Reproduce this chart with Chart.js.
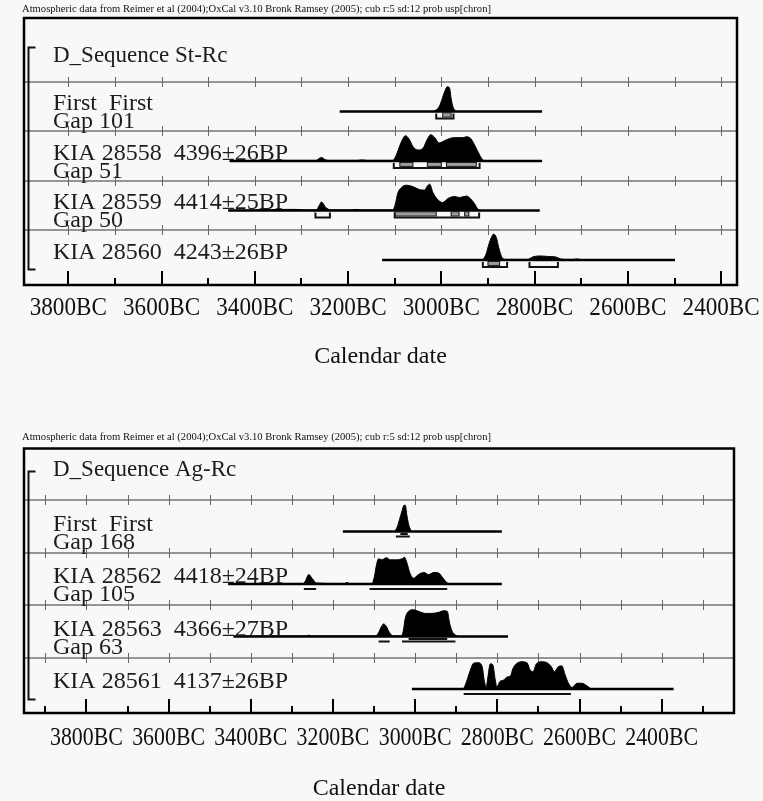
<!DOCTYPE html>
<html>
<head>
<meta charset="utf-8">
<script src="https://cdn.jsdelivr.net/npm/chart.js@4.4.1/dist/chart.umd.min.js"></script>
<style>
html, body { margin: 0; padding: 0; background: #f8f8f8; }
canvas { position: absolute; left: 0; display: block; }
</style>
</head>
<body>
<canvas id="st" width="763" height="400" style="top:0"></canvas>
<canvas id="ag" width="763" height="401" style="top:400px"></canvas>
<script>
// Two OxCal-style multiplots. Years are negative (BC). Each distribution is [year, height],
// height in row units (1 = distance between separators).
const HEADER = 'Atmospheric data from Reimer et al (2004);OxCal v3.10 Bronk Ramsey (2005); cub r:5 sd:12 prob usp[chron]';
const majorTicks = [-3800, -3600, -3400, -3200, -3000, -2800, -2600, -2400];

// --- D_Sequence St-Rc ---
const stLabels = ['First  First', 'KIA 28558  4396±26BP', 'KIA 28559  4414±25BP', 'KIA 28560  4243±26BP'];
const stGaps = ['Gap 101', 'Gap 51', 'Gap 50', ''];

const stFirstSpan = [-3218, -2784];
const stFirstDist = [[-3018, 0], [-3011, 0.03], [-3004, 0.11], [-2998, 0.26], [-2993, 0.4], [-2987, 0.5],
    [-2982, 0.46], [-2979, 0.26], [-2975, 0.09], [-2969, 0.01], [-2967, 0]];
const stFirstR1 = [[-2997, -2979]];
const stFirstR2 = [[-3011, -2974]];

const st558Span = [-3454, -2784];
const st558Dist = [[-3454, 0], [-3400, 0.01], [-3300, 0.01], [-3269, 0.01], [-3262, 0.05], [-3257, 0.07],
    [-3250, 0.03], [-3243, 0.01], [-3180, 0.01], [-3170, 0.02], [-3160, 0.01], [-3104, 0.01], [-3098, 0.09],
    [-3091, 0.26], [-3084, 0.42], [-3077, 0.51], [-3069, 0.44], [-3061, 0.29], [-3050, 0.22], [-3039, 0.26],
    [-3031, 0.42], [-3023, 0.53], [-3014, 0.47], [-3005, 0.36], [-2997, 0.39], [-2986, 0.44], [-2972, 0.47],
    [-2954, 0.47], [-2946, 0.49], [-2936, 0.44], [-2927, 0.29], [-2918, 0.12], [-2911, 0.02], [-2904, 0]];
const st558R1 = [[-3089, -3061], [-3030, -3000], [-2989, -2925]];
const st558R2 = [[-3102, -2918]];

const st559Span = [-3457, -2789];
const st559Dist = [[-3457, 0], [-3400, 0.01], [-3330, 0.02], [-3310, 0.02], [-3290, 0.01], [-3268, 0.01],
    [-3262, 0.1], [-3257, 0.17], [-3248, 0.06], [-3236, 0.01], [-3200, 0.01], [-3180, 0.02], [-3170, 0.01],
    [-3104, 0.01], [-3099, 0.12], [-3093, 0.36], [-3086, 0.46], [-3075, 0.51], [-3061, 0.48], [-3047, 0.42],
    [-3036, 0.41], [-3031, 0.48], [-3025, 0.53], [-3018, 0.36], [-3007, 0.21], [-2997, 0.16], [-2986, 0.24],
    [-2972, 0.28], [-2961, 0.26], [-2946, 0.29], [-2938, 0.24], [-2929, 0.14], [-2922, 0.03], [-2916, 0]];
const st559R1 = [[-3100, -3011], [-2979, -2962], [-2950, -2941]];
const st559R2 = [[-3270, -3239], [-3100, -2919]];

const st560Span = [-3127, -2499];
const st560Dist = [[-2911, 0], [-2904, 0.12], [-2898, 0.32], [-2893, 0.45], [-2888, 0.52], [-2882, 0.45],
    [-2877, 0.25], [-2871, 0.07], [-2864, 0.01], [-2815, 0.01], [-2804, 0.06], [-2789, 0.08], [-2772, 0.07],
    [-2755, 0.06], [-2744, 0.02], [-2734, 0.01], [-2716, 0.01], [-2710, 0.02], [-2702, 0.01], [-2690, 0]];
const st560R1 = [[-2900, -2875]];
const st560R2 = [[-2911, -2859], [-2811, -2750]];

// --- D_Sequence Ag-Rc ---
const agLabels = ['First  First', 'KIA 28562  4418±24BP', 'KIA 28563  4366±27BP', 'KIA 28561  4137±26BP'];
const agGaps = ['Gap 168', 'Gap 105', 'Gap 63', ''];

const agFirstSpan = [-3176, -2789];
const agFirstDist = [[-3050, 0], [-3044, 0.08], [-3038, 0.23], [-3032, 0.39], [-3027, 0.5], [-3024, 0.5],
    [-3020, 0.3], [-3015, 0.11], [-3009, 0]];
const agFirstR1 = [[-3036, -3018]];
const agFirstR2 = [[-3047, -3013]];

const ag562Span = [-3455, -2789];
const ag562Dist = [[-3455, 0], [-3400, 0.01], [-3300, 0.01], [-3272, 0.01], [-3267, 0.06], [-3259, 0.18],
    [-3250, 0.1], [-3240, 0.02], [-3200, 0.01], [-3172, 0.01], [-3166, 0.03], [-3160, 0.01], [-3105, 0.01],
    [-3099, 0.15], [-3094, 0.37], [-3089, 0.48], [-3081, 0.46], [-3070, 0.5], [-3060, 0.46], [-3044, 0.46],
    [-3032, 0.48], [-3026, 0.51], [-3020, 0.4], [-3013, 0.21], [-3004, 0.11], [-2992, 0.18], [-2979, 0.22],
    [-2967, 0.18], [-2955, 0.22], [-2943, 0.21], [-2932, 0.11], [-2922, 0.02], [-2916, 0]];
const ag562R1 = [];
const ag562R2 = [[-3271, -3241], [-3111, -2922]];

const ag563Span = [-3442, -2774];
const ag563Dist = [[-3442, 0], [-3400, 0.01], [-3300, 0.01], [-3265, 0.01], [-3259, 0.025], [-3253, 0.01],
    [-3097, 0.01], [-3090, 0.06], [-3082, 0.19], [-3077, 0.24], [-3070, 0.19], [-3063, 0.08], [-3056, 0.02],
    [-3048, 0.01], [-3034, 0.01], [-3029, 0.1], [-3024, 0.35], [-3016, 0.48], [-3004, 0.51], [-2992, 0.48],
    [-2975, 0.44], [-2959, 0.44], [-2943, 0.46], [-2931, 0.49], [-2922, 0.48], [-2916, 0.25], [-2910, 0.1],
    [-2902, 0.03], [-2894, 0]];
const ag563R1 = [[-3016, -2922]];
const ag563R2 = [[-3089, -3062], [-3032, -2902]];

const ag561Span = [-3008, -2371];
const ag561Dist = [[-2882, 0], [-2875, 0.14], [-2867, 0.33], [-2858, 0.49], [-2846, 0.5], [-2837, 0.43],
    [-2832, 0.17], [-2827, 0.03], [-2824, 0.17], [-2817, 0.48], [-2811, 0.46], [-2805, 0.17], [-2801, 0.04],
    [-2794, 0.14], [-2785, 0.17], [-2776, 0.23], [-2768, 0.25], [-2762, 0.39], [-2752, 0.49], [-2740, 0.52],
    [-2728, 0.5], [-2720, 0.36], [-2713, 0.33], [-2705, 0.48], [-2691, 0.52], [-2679, 0.5], [-2669, 0.43],
    [-2661, 0.33], [-2651, 0.43], [-2643, 0.44], [-2635, 0.27], [-2627, 0.11], [-2618, 0.03], [-2606, 0.11],
    [-2594, 0.11], [-2582, 0.06], [-2572, 0]];
const ag561R1 = [];
const ag561R2 = [[-2882, -2621]];

const panels = [
    {
        id: 'st', title: 'D_Sequence St-Rc', labels: stLabels, gaps: stGaps,
        spans: [stFirstSpan, st558Span, st559Span, st560Span],
        dists: [stFirstDist, st558Dist, st559Dist, st560Dist],
        r1: [stFirstR1, st558R1, st559R1, st560R1],
        r2: [stFirstR2, st558R2, st559R2, st560R2],
        xMin: -3895, xMax: -2366, yMin: -0.287, yMax: 5.107,
        padding: { left: 24, right: 26, top: 18, bottom: 115 },
        headerY: 12, titleY: 0.48, bracketTop: 0.3, bracketBottom: 4.78,
        tickLabelDy: 30, tickFont: 26, tickSx: 0.89, axisTitleDy: 78, rangeStyle: 'box'
    },
    {
        id: 'ag', title: 'D_Sequence Ag-Rc', labels: agLabels, gaps: agGaps,
        spans: [agFirstSpan, ag562Span, ag563Span, ag561Span],
        dists: [agFirstDist, ag562Dist, ag563Dist, ag561Dist],
        r1: [agFirstR1, ag562R1, ag563R1, ag561R1],
        r2: [agFirstR2, ag562R2, ag563R2, ag561R2],
        xMin: -3952, xMax: -2224, yMin: 0.019, yMax: 5.057,
        padding: { left: 24, right: 29, top: 48.5, bottom: 88 },
        headerY: 40, titleY: 0.43, bracketTop: 0.44, bracketBottom: 4.79,
        tickLabelDy: 32, tickFont: 25, tickSx: 0.875, axisTitleDy: 82, rangeStyle: 'line'
    }
];

const SERIF = '"Liberation Serif", "DejaVu Serif", serif';

function oxcalPlugin(p) {
    return {
        id: 'oxcal',
        beforeDatasetsDraw(chart) {
            const { ctx, chartArea: a, scales: { x, y } } = chart;
            ctx.save();
            // row separators with 100-year ticks
            for (let s = 1; s <= p.labels.length; s++) {
                const py = Math.round(y.getPixelForValue(s));
                ctx.strokeStyle = '#959595';
                ctx.lineWidth = 2;
                ctx.beginPath(); ctx.moveTo(a.left, py); ctx.lineTo(a.right, py); ctx.stroke();
                ctx.strokeStyle = '#666';
                ctx.lineWidth = 1;
                for (let yr = Math.ceil(x.min / 100) * 100; yr <= x.max; yr += 100) {
                    const px = Math.round(x.getPixelForValue(yr)) + 0.5;
                    ctx.beginPath(); ctx.moveTo(px, py - 5); ctx.lineTo(px, py + 5); ctx.stroke();
                }
            }
            // sequence bracket
            const bx = a.left + 4.5;
            const t = Math.round(y.getPixelForValue(p.bracketTop)) + 0.5;
            const b = Math.round(y.getPixelForValue(p.bracketBottom)) + 0.5;
            ctx.strokeStyle = '#111';
            ctx.lineWidth = 2;
            ctx.beginPath();
            ctx.moveTo(bx + 7, t); ctx.lineTo(bx, t); ctx.lineTo(bx, b); ctx.lineTo(bx + 7, b);
            ctx.stroke();
            ctx.restore();
        },
        afterDatasetsDraw(chart) {
            const { ctx, chartArea: a, scales: { x, y } } = chart;
            ctx.save();
            // probability ranges under each distribution
            p.labels.forEach((lab, i) => {
                const by = y.getPixelForValue(i + 1.6);
                if (p.rangeStyle === 'box') {
                    p.r1[i].forEach(([f, tt]) => {
                        const x1 = x.getPixelForValue(f), x2 = x.getPixelForValue(tt);
                        ctx.fillStyle = '#9c9c9c';
                        ctx.fillRect(x1, by + 2, x2 - x1, 3);
                        ctx.strokeStyle = '#111'; ctx.lineWidth = 1;
                        ctx.strokeRect(x1, by + 1.5, x2 - x1, 4);
                    });
                    p.r2[i].forEach(([f, tt]) => {
                        const x1 = x.getPixelForValue(f), x2 = x.getPixelForValue(tt);
                        ctx.strokeStyle = '#111'; ctx.lineWidth = 2;
                        ctx.beginPath();
                        ctx.moveTo(x1, by + 2); ctx.lineTo(x1, by + 7); ctx.lineTo(x2, by + 7); ctx.lineTo(x2, by + 2);
                        ctx.stroke();
                    });
                } else {
                    ctx.strokeStyle = '#111'; ctx.lineWidth = 2;
                    p.r1[i].forEach(([f, tt]) => {
                        ctx.beginPath();
                        ctx.moveTo(x.getPixelForValue(f), by + 2.5); ctx.lineTo(x.getPixelForValue(tt), by + 2.5);
                        ctx.stroke();
                    });
                    p.r2[i].forEach(([f, tt]) => {
                        ctx.beginPath();
                        ctx.moveTo(x.getPixelForValue(f), by + 5); ctx.lineTo(x.getPixelForValue(tt), by + 5);
                        ctx.stroke();
                    });
                }
                // row labels
                ctx.fillStyle = '#1c1c1c';
                ctx.font = '24px ' + SERIF;
                ctx.textAlign = 'left';
                ctx.textBaseline = 'alphabetic';
                ctx.fillText(lab, 53, by - 1);
                if (p.gaps[i]) ctx.fillText(p.gaps[i], 53, by + 17);
            });
            // sequence title
            ctx.font = '23px ' + SERIF;
            ctx.textBaseline = 'middle';
            ctx.fillText(p.title, 53, y.getPixelForValue(p.titleY));
            // frame
            ctx.strokeStyle = '#000';
            ctx.lineWidth = 2.5;
            ctx.strokeRect(a.left, a.top, a.right - a.left, a.bottom - a.top);
            // bottom axis ticks
            ctx.lineWidth = 2;
            for (let yr = Math.ceil(x.min / 100) * 100; yr <= x.max; yr += 100) {
                const px = Math.round(x.getPixelForValue(yr));
                const len = yr % 200 === 0 ? 14 : 7;
                ctx.beginPath(); ctx.moveTo(px, a.bottom); ctx.lineTo(px, a.bottom - len); ctx.stroke();
            }
            // tick labels (narrow, tall serif like the original)
            ctx.fillStyle = '#111';
            ctx.font = p.tickFont + 'px ' + SERIF;
            ctx.textAlign = 'center';
            ctx.textBaseline = 'alphabetic';
            majorTicks.forEach(yr => {
                ctx.save();
                ctx.translate(x.getPixelForValue(yr), a.bottom + p.tickLabelDy);
                ctx.scale(p.tickSx, 1);
                ctx.fillText((-yr) + 'BC', 0, 0);
                ctx.restore();
            });
            ctx.font = '24px ' + SERIF;
            ctx.fillText('Calendar date', (a.left + a.right) / 2, a.bottom + p.axisTitleDy);
            // header line
            ctx.font = '10.6px ' + SERIF;
            ctx.textAlign = 'left';
            ctx.fillText(HEADER, 22, p.headerY);
            ctx.restore();
        }
    };
}

panels.forEach(p => {
    const datasets = [];
    p.labels.forEach((lab, i) => {
        const base = i + 1.6;
        datasets.push({
            label: lab + ' range',
            data: p.spans[i].map(yr => ({ x: yr, y: base })),
            borderColor: '#000', borderWidth: 2.5, pointRadius: 0, fill: false
        });
        datasets.push({
            label: lab,
            data: p.dists[i].map(([yr, h]) => ({ x: yr, y: base - h })),
            borderColor: '#000', borderWidth: 1, backgroundColor: '#000',
            pointRadius: 0, cubicInterpolationMode: 'monotone', fill: { value: base }
        });
    });

    new Chart(document.getElementById(p.id).getContext('2d'), {
        type: 'line',
        data: { datasets },
        plugins: [oxcalPlugin(p)],
        options: {
            responsive: false, animation: false, devicePixelRatio: 1,
            layout: { padding: p.padding },
            plugins: { legend: { display: false }, tooltip: { enabled: false } },
            scales: {
                x: { type: 'linear', min: p.xMin, max: p.xMax, display: false },
                y: { type: 'linear', min: p.yMin, max: p.yMax, reverse: true, display: false }
            }
        }
    });
});
</script>
</body>
</html>
